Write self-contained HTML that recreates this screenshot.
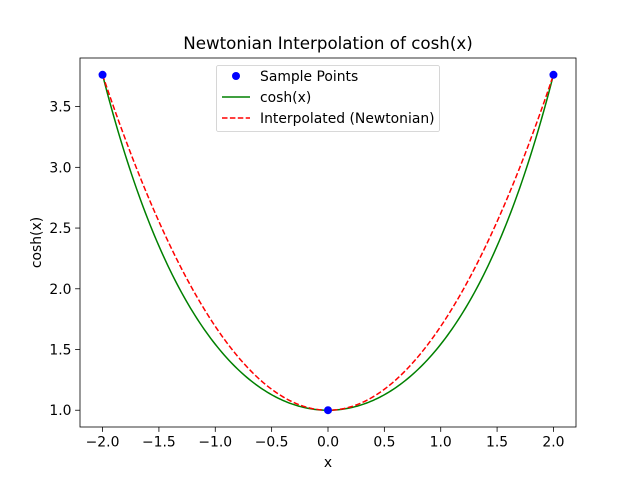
<!DOCTYPE html>
<html><head><meta charset="utf-8"><style>
body{margin:0;background:#fff;}
svg text{font-family:"DejaVu Sans","Liberation Sans",sans-serif;}
</style></head><body>
<svg id="chart" width="640" height="480" xmlns="http://www.w3.org/2000/svg"></svg>
<script>
const sampleX = [-2, 0, 2];
const sampleY = [3.7622, 1.0, 3.7622];
const xTicks = [-2.0, -1.5, -1.0, -0.5, 0.0, 0.5, 1.0, 1.5, 2.0];
const yTicks = [1.0, 1.5, 2.0, 2.5, 3.0, 3.5];
const xDomain = [-2.2, 2.2];
const yDomain = [0.8619, 3.9003];

const L=80,R=576,T=58,B=427;
const FS=13.9;
const sx=v=>L+(v-xDomain[0])/(xDomain[1]-xDomain[0])*(R-L);
const sy=v=>B-(v-yDomain[0])/(yDomain[1]-yDomain[0])*(B-T);
const svg=document.getElementById('chart');
const NS='http://www.w3.org/2000/svg';
function mk(tag,attrs,parent){const e=document.createElementNS(NS,tag);for(const k in attrs)e.setAttribute(k,attrs[k]);(parent||svg).appendChild(e);return e;}

function newton(xs,ys){const n=xs.length;const c=ys.slice();for(let j=1;j<n;j++)for(let i=n-1;i>=j;i--)c[i]=(c[i]-c[i-1])/(xs[i]-xs[i-j]);return x=>{let r=c[n-1];for(let i=n-2;i>=0;i--)r=r*(x-xs[i])+c[i];return r;};}
const P=newton(sampleX,sampleY);
const x0=Math.min(...sampleX),x1=Math.max(...sampleX);
let dCosh='',dInt='';
for(let i=0;i<=200;i++){const x=x0+(x1-x0)*i/200;dCosh+=(i?'L':'M')+sx(x).toFixed(2)+','+sy(Math.cosh(x)).toFixed(2);dInt+=(i?'L':'M')+sx(x).toFixed(2)+','+sy(P(x)).toFixed(2);}
const c1=mk('path',{d:dCosh,fill:'none',stroke:'#008000','stroke-width':1.5});


const c2=mk('path',{d:dInt,fill:'none',stroke:'#ff0000','stroke-width':1.5,'stroke-dasharray':'5.5,2.4'});


sampleX.forEach((x,i)=>{const p=mk('circle',{cx:sx(x),cy:sy(sampleY[i]),r:4,fill:'#0000ff'});

});

const frame=mk('rect',{x:L,y:T,width:R-L,height:B-T,fill:'none',stroke:'#000','stroke-width':0.8});


xTicks.forEach(v=>{const x=sx(v);mk('line',{x1:x,x2:x,y1:B,y2:B+4.9,stroke:'#000','stroke-width':0.8});
const t=mk('text',{x:x,y:B+19.5,'font-size':FS,'text-anchor':'middle'});t.textContent=(v<0?'\u2212':'')+Math.abs(v).toFixed(1);

});
yTicks.forEach(v=>{const y=sy(v);mk('line',{x1:L-4.9,x2:L,y1:y,y2:y,stroke:'#000','stroke-width':0.8});
const t=mk('text',{x:L-8.5,y:y+5,'font-size':FS,'text-anchor':'end'});t.textContent=v.toFixed(1);

});
const xt=mk('text',{x:(L+R)/2,y:467,'font-size':FS,'text-anchor':'middle'});xt.textContent='x';


const yt=mk('text',{x:0,y:0,'font-size':FS,'text-anchor':'middle',transform:`translate(41,${(T+B)/2}) rotate(-90)`});yt.textContent='cosh(x)';


const tt=mk('text',{x:(L+R)/2,y:49,'font-size':16.7,'text-anchor':'middle'});tt.textContent='Newtonian Interpolation of cosh(x)';



const lg=mk('g',{});


mk('rect',{x:216.5,y:65.5,width:223,height:66,rx:2,fill:'#fff',stroke:'#ccc','stroke-width':0.8},lg);
mk('circle',{cx:236,cy:76,r:4,fill:'#0000ff'},lg);
mk('line',{x1:222,x2:250,y1:97,y2:97,stroke:'#008000','stroke-width':1.5},lg);
mk('line',{x1:222,x2:250,y1:118,y2:118,stroke:'#ff0000','stroke-width':1.5,'stroke-dasharray':'5.5,2.4'},lg);
[['Sample Points',81],['cosh(x)',102],['Interpolated (Newtonian)',123]].forEach(([s,y])=>{const t=mk('text',{x:260,y:y,'font-size':FS},lg);t.textContent=s;

});
</script>
</body></html>
